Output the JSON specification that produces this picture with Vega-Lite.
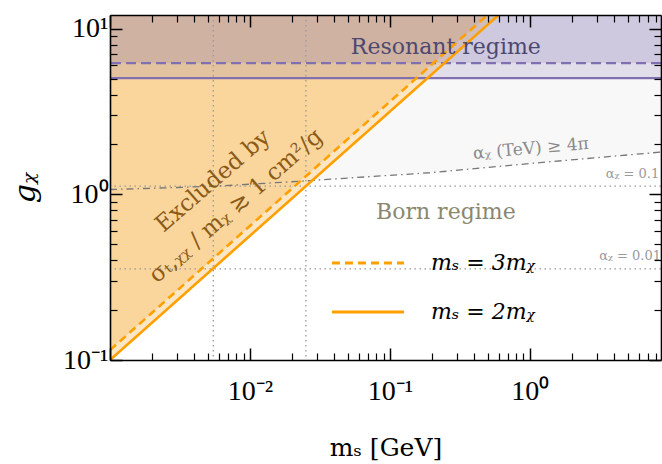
{
  "$schema": "https://vega.github.io/schema/vega-lite/v6.json",
  "width": 551,
  "height": 345,
  "autosize": {"type": "none"},
  "padding": {"left": 110, "top": 15, "right": 1, "bottom": 104},
  "background": "white",
  "config": {"view": {"stroke": null}, "font": "DejaVu Serif"},
  "datasets": {
    "curve": [
      {"m": 0.001, "g": 1.07},
      {"m": 0.003, "g": 1.10},
      {"m": 0.00614, "g": 1.124},
      {"m": 0.0268, "g": 1.21},
      {"m": 0.0379, "g": 1.235},
      {"m": 0.193, "g": 1.35},
      {"m": 1.016, "g": 1.537},
      {"m": 8.65, "g": 1.80}
    ],
    "orange": [
      {"m": 0.001, "g": 0.1, "rel": "mₛ = 2mᵪ"},
      {"m": 0.598, "g": 12.1, "rel": "mₛ = 2mᵪ"},
      {"m": 0.001, "g": 0.1148, "rel": "mₛ = 3mᵪ"},
      {"m": 0.498, "g": 12.1, "rel": "mₛ = 3mᵪ"}
    ],
    "resonant": [{"lo": 5.03, "kind": "2m"}, {"lo": 6.2, "kind": "3m"}],
    "alphaH": [{"g": 1.121}, {"g": 0.3545}],
    "alphaV": [{"m": 0.00547}, {"m": 0.0251}]
  },
  "resolve": {"axis": {"x": "independent", "y": "independent"}},
  "layer": [
    {
      "data": {"name": "curve"},
      "mark": {"type": "area", "color": "#f8f8f8", "clip": true},
      "encoding": {
        "x": {"field": "m", "type": "quantitative",
          "scale": {"type": "log", "domain": [0.001, 8.65], "nice": false},
          "axis": {"orient": "bottom", "values": [0.001, 0.01, 0.1, 1],
            "labelExpr": "datum.value == 0.01 ? '10⁻²' : datum.value == 0.1 ? '10⁻¹' : datum.value == 1 ? '10⁰' : ''",
            "tickSize": -12, "tickWidth": 1.5, "tickColor": "black",
            "domain": true, "domainColor": "black", "domainWidth": 1.6,
            "grid": false, "labelPadding": 29, "labelFontSize": 28, "labelColor": "black",
            "labelFont": "Liberation Serif", "labelFlush": false,
            "title": "mₛ [GeV]", "titleFontSize": 25, "titleFont": "DejaVu Serif",
            "titleFontWeight": "normal", "titleColor": "black", "titlePadding": 30, "zindex": 2}},
        "y": {"field": "g", "type": "quantitative",
          "scale": {"type": "log", "domain": [0.1, 12.1], "nice": false},
          "axis": {"orient": "left", "values": [0.1, 1, 10],
            "labelExpr": "datum.value == 0.1 ? '10⁻¹' : datum.value == 1 ? '10⁰' : '10¹'",
            "tickSize": -12, "tickWidth": 1.5, "tickColor": "black",
            "domain": true, "domainColor": "black", "domainWidth": 1.6,
            "grid": false, "labelPadding": 14, "labelFontSize": 28, "labelColor": "black",
            "labelFont": "Liberation Serif", "labelFlush": false,
            "title": "gᵪ", "titleFontSize": 30, "titleFont": "DejaVu Serif",
            "titleFontWeight": "normal", "titleFontStyle": "italic", "titleColor": "black", "titlePadding": 22, "zindex": 2}},
        "y2": {"datum": 12.1}
      }
    },
    {
      "data": {"name": "orange"},
      "transform": [{"filter": "datum.rel == 'mₛ = 2mᵪ'"}],
      "mark": {"type": "area", "color": "#fbe6c6", "clip": true},
      "encoding": {
        "x": {"field": "m", "type": "quantitative",
          "axis": {"orient": "bottom", "values": [0.002,0.003,0.004,0.005,0.006,0.007,0.008,0.009,0.02,0.03,0.04,0.05,0.06,0.07,0.08,0.09,0.2,0.3,0.4,0.5,0.6,0.7,0.8,0.9,2,3,4,5,6,7,8],
            "tickSize": -7, "tickWidth": 1.2, "tickColor": "black", "labels": false,
            "domain": false, "grid": false, "title": null, "zindex": 2}},
        "y": {"field": "g", "type": "quantitative",
          "axis": {"orient": "left", "values": [0.2,0.3,0.4,0.5,0.6,0.7,0.8,0.9,2,3,4,5,6,7,8,9],
            "tickSize": -7, "tickWidth": 1.2, "tickColor": "black", "labels": false,
            "domain": false, "grid": false, "title": null, "zindex": 2}},
        "y2": {"datum": 12.1}
      }
    },
    {
      "data": {"name": "orange"},
      "transform": [{"filter": "datum.rel == 'mₛ = 3mᵪ'"}],
      "mark": {"type": "area", "color": "#fad69c", "clip": true},
      "encoding": {
        "x": {"field": "m", "type": "quantitative",
          "axis": {"orient": "top", "values": [0.001, 0.01, 0.1, 1],
            "tickSize": -12, "tickWidth": 1.5, "tickColor": "black", "labels": false,
            "domain": true, "domainColor": "black", "domainWidth": 1.6, "grid": false, "title": null, "zindex": 2}},
        "y": {"field": "g", "type": "quantitative",
          "axis": {"orient": "right", "values": [0.1, 1, 10],
            "tickSize": -12, "tickWidth": 1.5, "tickColor": "black", "labels": false,
            "domain": true, "domainColor": "black", "domainWidth": 1.6, "grid": false, "title": null, "zindex": 2}},
        "y2": {"datum": 12.1}
      }
    },
    {
      "data": {"name": "resonant"},
      "mark": {"type": "rect", "color": "#8070b0", "opacity": 0.19, "clip": true},
      "encoding": {
        "x": {"datum": 0.001, "type": "quantitative", "axis": null},
        "x2": {"datum": 8.65},
        "y": {"field": "lo", "type": "quantitative", "axis": null},
        "y2": {"datum": 12.1}
      }
    },
    {
      "data": {"name": "resonant"},
      "transform": [{"filter": "datum.kind == '2m'"}],
      "mark": {"type": "rule", "color": "#8070b0", "strokeWidth": 2.2},
      "encoding": {"y": {"field": "lo", "type": "quantitative", "axis": null}}
    },
    {
      "data": {"name": "resonant"},
      "transform": [{"filter": "datum.kind == '3m'"}],
      "mark": {"type": "rule", "color": "#8070b0", "strokeWidth": 2.2, "strokeDash": [10, 5]},
      "encoding": {"y": {"field": "lo", "type": "quantitative", "axis": null}}
    },
    {
      "data": {"name": "alphaH"},
      "mark": {"type": "rule", "color": "#999999", "strokeWidth": 1.3, "strokeDash": [1.5, 3.5]},
      "encoding": {"y": {"field": "g", "type": "quantitative", "axis": null}}
    },
    {
      "data": {"name": "alphaV"},
      "mark": {"type": "rule", "color": "#999999", "strokeWidth": 1.3, "strokeDash": [1.5, 3.5]},
      "encoding": {"x": {"field": "m", "type": "quantitative", "axis": null}}
    },
    {
      "data": {"name": "curve"},
      "mark": {"type": "line", "color": "#777777", "strokeWidth": 1.3, "strokeDash": [7, 4, 1.5, 4], "clip": true},
      "encoding": {
        "x": {"field": "m", "type": "quantitative",
          "axis": {"orient": "top", "values": [0.002,0.003,0.004,0.005,0.006,0.007,0.008,0.009,0.02,0.03,0.04,0.05,0.06,0.07,0.08,0.09,0.2,0.3,0.4,0.5,0.6,0.7,0.8,0.9,2,3,4,5,6,7,8],
            "tickSize": -7, "tickWidth": 1.2, "tickColor": "black", "labels": false,
            "domain": false, "grid": false, "title": null, "zindex": 2}},
        "y": {"field": "g", "type": "quantitative",
          "axis": {"orient": "right", "values": [0.2,0.3,0.4,0.5,0.6,0.7,0.8,0.9,2,3,4,5,6,7,8,9],
            "tickSize": -7, "tickWidth": 1.2, "tickColor": "black", "labels": false,
            "domain": false, "grid": false, "title": null, "zindex": 2}}
      }
    },
    {
      "data": {"name": "orange"},
      "mark": {"type": "line", "color": "#ffa000", "strokeWidth": 2.6, "clip": true},
      "encoding": {
        "x": {"field": "m", "type": "quantitative", "axis": null},
        "y": {"field": "g", "type": "quantitative", "axis": null},
        "strokeDash": {"field": "rel", "type": "nominal",
          "scale": {"domain": ["mₛ = 3mᵪ", "mₛ = 2mᵪ"], "range": [[8, 5], [1, 0]]},
          "legend": {"orient": "none", "legendX": 220, "legendY": 210, "title": null,
            "symbolType": "stroke", "symbolSize": 5200, "symbolStrokeWidth": 3,
            "symbolStrokeColor": "#ffa000", "labelFontSize": 22, "labelFont": "DejaVu Serif",
            "labelFontStyle": "italic", "labelColor": "black",
            "rowPadding": -25, "labelOffset": 25, "padding": 0}}
      }
    },
    {
      "data": {"values": [{"m": 0.251, "g": 7.76, "t": "Resonant regime"}]},
      "mark": {"type": "text", "color": "#4d4870", "fontSize": 22, "font": "DejaVu Serif", "align": "center", "baseline": "middle"},
      "encoding": {"x": {"field": "m", "type": "quantitative", "axis": null}, "y": {"field": "g", "type": "quantitative", "axis": null}, "text": {"field": "t"}}
    },
    {
      "data": {"values": [{"m": 0.251, "g": 0.783, "t": "Born regime"}]},
      "mark": {"type": "text", "color": "#8b876f", "fontSize": 22, "font": "DejaVu Serif", "align": "center", "baseline": "middle"},
      "encoding": {"x": {"field": "m", "type": "quantitative", "axis": null}, "y": {"field": "g", "type": "quantitative", "axis": null}, "text": {"field": "t"}}
    },
    {
      "data": {"values": [{"m": 1.016, "g": 1.88, "t": "αᵪ (TeV) ≥ 4π"}]},
      "mark": {"type": "text", "color": "#8a8a8a", "fontSize": 17, "font": "DejaVu Serif", "align": "center", "baseline": "middle", "angle": -5},
      "encoding": {"x": {"field": "m", "type": "quantitative", "axis": null}, "y": {"field": "g", "type": "quantitative", "axis": null}, "text": {"field": "t"}}
    },
    {
      "data": {"values": [{"m": 8.4, "g": 1.33, "t": "αᵪ = 0.1"}, {"m": 8.65, "g": 0.425, "t": "αᵪ = 0.01"}]},
      "mark": {"type": "text", "color": "#9a9a9a", "fontSize": 13, "font": "DejaVu Serif", "align": "right", "baseline": "middle"},
      "encoding": {"x": {"field": "m", "type": "quantitative", "axis": null}, "y": {"field": "g", "type": "quantitative", "axis": null}, "text": {"field": "t"}}
    },
    {
      "data": {"values": [{"m": 0.00544, "g": 1.205, "t": "Excluded by"}, {"m": 0.00794, "g": 0.851, "t": "σₜ,ᵪᵪ / mᵪ ≳ 1 cm²/g"}]},
      "mark": {"type": "text", "color": "#8a5a18", "fontSize": 23, "font": "DejaVu Serif", "align": "center", "baseline": "middle", "angle": -41},
      "encoding": {"x": {"field": "m", "type": "quantitative", "axis": null}, "y": {"field": "g", "type": "quantitative", "axis": null}, "text": {"field": "t"}}
    }
  ]
}
